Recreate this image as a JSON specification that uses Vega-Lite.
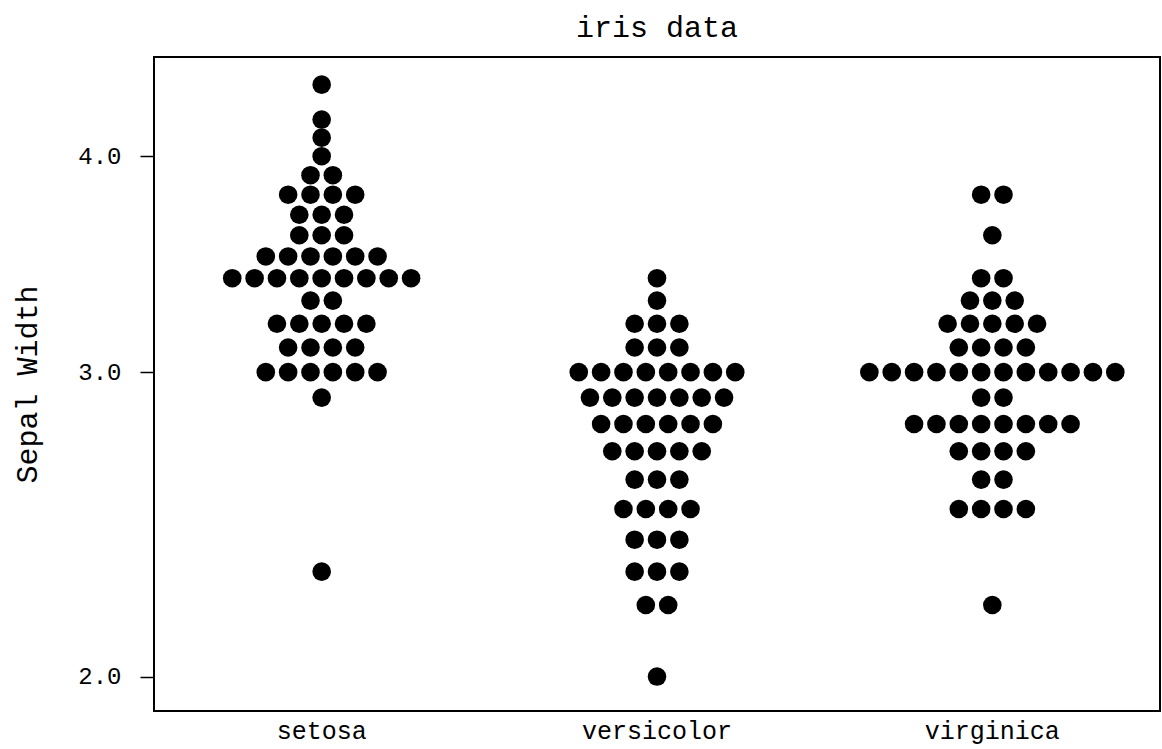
{
  "$schema": "https://vega.github.io/schema/vega-lite/v6.json",
  "autosize": "none",
  "padding": {"left": 154, "top": 57, "right": 2, "bottom": 38},
  "width": 1006,
  "height": 654,
  "background": "white",
  "title": {"text": "iris data", "font": "Liberation Mono", "fontSize": 30, "fontWeight": "normal", "color": "black", "anchor": "middle", "frame": "group", "offset": 14},
  "config": {
    "view": {"stroke": "black", "strokeWidth": 2},
    "axis": {"labelFont": "Liberation Mono", "titleFont": "Liberation Mono", "labelColor": "black", "titleColor": "black", "grid": false, "domain": false}
  },
  "data": {"values": [
    {"species":"setosa","sw":3.5},{"species":"setosa","sw":3.0},{"species":"setosa","sw":3.2},{"species":"setosa","sw":3.1},{"species":"setosa","sw":3.6},
    {"species":"setosa","sw":3.9},{"species":"setosa","sw":3.4},{"species":"setosa","sw":3.4},{"species":"setosa","sw":2.9},{"species":"setosa","sw":3.1},
    {"species":"setosa","sw":3.7},{"species":"setosa","sw":3.4},{"species":"setosa","sw":3.0},{"species":"setosa","sw":3.0},{"species":"setosa","sw":4.0},
    {"species":"setosa","sw":4.4},{"species":"setosa","sw":3.9},{"species":"setosa","sw":3.5},{"species":"setosa","sw":3.8},{"species":"setosa","sw":3.8},
    {"species":"setosa","sw":3.4},{"species":"setosa","sw":3.7},{"species":"setosa","sw":3.6},{"species":"setosa","sw":3.3},{"species":"setosa","sw":3.4},
    {"species":"setosa","sw":3.0},{"species":"setosa","sw":3.4},{"species":"setosa","sw":3.5},{"species":"setosa","sw":3.4},{"species":"setosa","sw":3.2},
    {"species":"setosa","sw":3.1},{"species":"setosa","sw":3.4},{"species":"setosa","sw":4.1},{"species":"setosa","sw":4.2},{"species":"setosa","sw":3.1},
    {"species":"setosa","sw":3.2},{"species":"setosa","sw":3.5},{"species":"setosa","sw":3.6},{"species":"setosa","sw":3.0},{"species":"setosa","sw":3.4},
    {"species":"setosa","sw":3.5},{"species":"setosa","sw":2.3},{"species":"setosa","sw":3.2},{"species":"setosa","sw":3.5},{"species":"setosa","sw":3.8},
    {"species":"setosa","sw":3.0},{"species":"setosa","sw":3.8},{"species":"setosa","sw":3.2},{"species":"setosa","sw":3.7},{"species":"setosa","sw":3.3},
    {"species":"versicolor","sw":3.2},{"species":"versicolor","sw":3.2},{"species":"versicolor","sw":3.1},{"species":"versicolor","sw":2.3},{"species":"versicolor","sw":2.8},
    {"species":"versicolor","sw":2.8},{"species":"versicolor","sw":3.3},{"species":"versicolor","sw":2.4},{"species":"versicolor","sw":2.9},{"species":"versicolor","sw":2.7},
    {"species":"versicolor","sw":2.0},{"species":"versicolor","sw":3.0},{"species":"versicolor","sw":2.2},{"species":"versicolor","sw":2.9},{"species":"versicolor","sw":2.9},
    {"species":"versicolor","sw":3.1},{"species":"versicolor","sw":3.0},{"species":"versicolor","sw":2.7},{"species":"versicolor","sw":2.2},{"species":"versicolor","sw":2.5},
    {"species":"versicolor","sw":3.2},{"species":"versicolor","sw":2.8},{"species":"versicolor","sw":2.5},{"species":"versicolor","sw":2.8},{"species":"versicolor","sw":2.9},
    {"species":"versicolor","sw":3.0},{"species":"versicolor","sw":2.8},{"species":"versicolor","sw":3.0},{"species":"versicolor","sw":2.9},{"species":"versicolor","sw":2.6},
    {"species":"versicolor","sw":2.4},{"species":"versicolor","sw":2.4},{"species":"versicolor","sw":2.7},{"species":"versicolor","sw":2.7},{"species":"versicolor","sw":3.0},
    {"species":"versicolor","sw":3.4},{"species":"versicolor","sw":3.1},{"species":"versicolor","sw":2.3},{"species":"versicolor","sw":3.0},{"species":"versicolor","sw":2.5},
    {"species":"versicolor","sw":2.6},{"species":"versicolor","sw":3.0},{"species":"versicolor","sw":2.6},{"species":"versicolor","sw":2.3},{"species":"versicolor","sw":2.7},
    {"species":"versicolor","sw":3.0},{"species":"versicolor","sw":2.9},{"species":"versicolor","sw":2.9},{"species":"versicolor","sw":2.5},{"species":"versicolor","sw":2.8},
    {"species":"virginica","sw":3.3},{"species":"virginica","sw":2.7},{"species":"virginica","sw":3.0},{"species":"virginica","sw":2.9},{"species":"virginica","sw":3.0},
    {"species":"virginica","sw":3.0},{"species":"virginica","sw":2.5},{"species":"virginica","sw":2.9},{"species":"virginica","sw":2.5},{"species":"virginica","sw":3.6},
    {"species":"virginica","sw":3.2},{"species":"virginica","sw":2.7},{"species":"virginica","sw":3.0},{"species":"virginica","sw":2.5},{"species":"virginica","sw":2.8},
    {"species":"virginica","sw":3.2},{"species":"virginica","sw":3.0},{"species":"virginica","sw":3.8},{"species":"virginica","sw":2.6},{"species":"virginica","sw":2.2},
    {"species":"virginica","sw":3.2},{"species":"virginica","sw":2.8},{"species":"virginica","sw":2.8},{"species":"virginica","sw":2.7},{"species":"virginica","sw":3.3},
    {"species":"virginica","sw":3.2},{"species":"virginica","sw":2.8},{"species":"virginica","sw":3.0},{"species":"virginica","sw":2.8},{"species":"virginica","sw":3.0},
    {"species":"virginica","sw":2.8},{"species":"virginica","sw":3.8},{"species":"virginica","sw":2.8},{"species":"virginica","sw":2.8},{"species":"virginica","sw":2.6},
    {"species":"virginica","sw":3.0},{"species":"virginica","sw":3.4},{"species":"virginica","sw":3.1},{"species":"virginica","sw":3.0},{"species":"virginica","sw":3.1},
    {"species":"virginica","sw":3.1},{"species":"virginica","sw":3.1},{"species":"virginica","sw":2.7},{"species":"virginica","sw":3.2},{"species":"virginica","sw":3.3},
    {"species":"virginica","sw":3.0},{"species":"virginica","sw":2.5},{"species":"virginica","sw":3.0},{"species":"virginica","sw":3.4},{"species":"virginica","sw":3.0}
  ]},
  "transform": [
    {"window": [{"op": "row_number", "as": "i"}], "groupby": ["species", "sw"]},
    {"joinaggregate": [{"op": "count", "as": "n"}], "groupby": ["species", "sw"]},
    {"calculate": "datum.i - (datum.n + 1) / 2", "as": "off"}
  ],
  "mark": {"type": "circle", "size": 346, "color": "black", "opacity": 1, "filled": true},
  "encoding": {
    "x": {"field": "species", "type": "nominal", "sort": ["setosa", "versicolor", "virginica"],
      "scale": {"paddingInner": 0, "paddingOuter": 0},
      "axis": {"title": null, "ticks": false, "labelAngle": 0, "labelFontSize": 25, "labelPadding": 7}},
    "xOffset": {"field": "off", "type": "quantitative", "scale": {"domain": [-7.5, 7.5]}},
    "y": {"field": "sw", "type": "quantitative",
      "scale": {"type": "log", "domain": [1.9103, 4.565], "nice": false, "zero": false},
      "axis": {"title": "Sepal Width", "values": [2, 3, 4], "format": ".1f", "tickSize": 14, "tickColor": "black", "tickWidth": 1.5, "labelFontSize": 24, "labelPadding": 19, "titleFontSize": 30, "titleFontWeight": "normal", "titlePadding": 35}}
  }
}
